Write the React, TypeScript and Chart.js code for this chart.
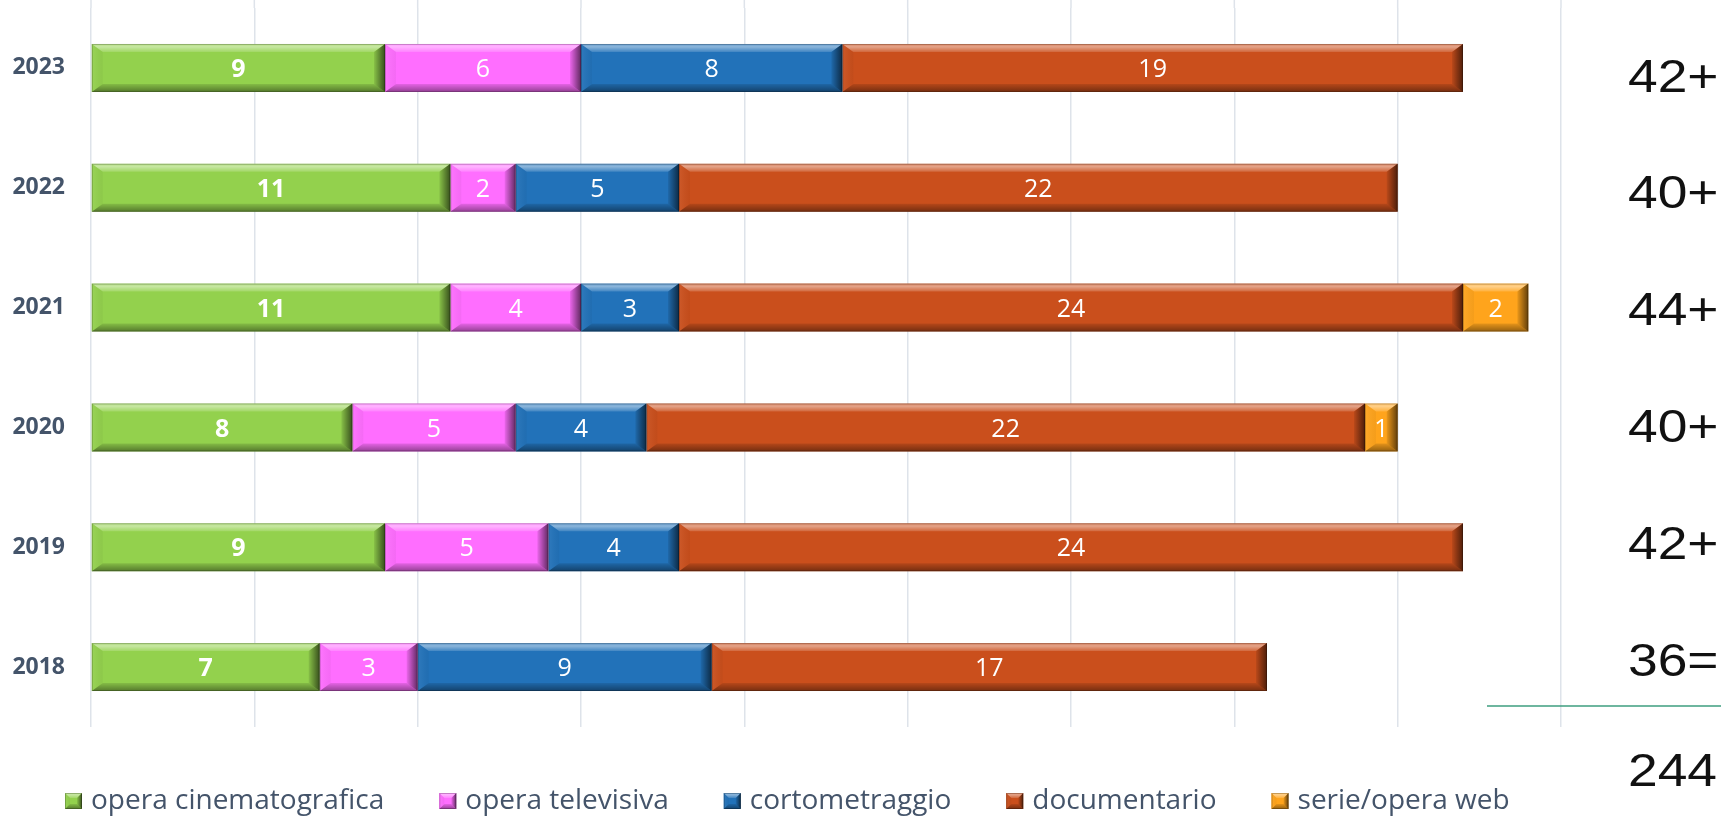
import React, { useEffect, useRef } from "react";
import { Chart, registerables } from "chart.js";
Chart.register(...registerables);

const years = ["2023", "2022", "2021", "2020", "2019", "2018"];
const seriesNames = ["opera cinematografica", "opera televisiva", "cortometraggio", "documentario", "serie/opera web"];
const cinema = [9, 11, 11, 8, 9, 7];
const televisiva = [6, 2, 4, 5, 5, 3];
const corto = [8, 5, 3, 4, 4, 9];
const documentario = [19, 22, 24, 22, 24, 17];
const serieWeb = [null, null, 2, 1, null, null];
const totalSuffix = ["+", "+", "+", "+", "+", "="];
const seriesColors = ["#93D14D", "#FF6EFF", "#2272B9", "#CA4F1C", "#FFA41C"];
const xMin = 0;
const xMax = 45;
const xStep = 5;

type Pt = [number, number];

function poly(ctx: CanvasRenderingContext2D, pts: Pt[], fill: any) {
  ctx.beginPath();
  ctx.moveTo(pts[0][0], pts[0][1]);
  for (let i = 1; i < pts.length; i++) ctx.lineTo(pts[i][0], pts[i][1]);
  ctx.closePath();
  ctx.fillStyle = fill;
  ctx.fill();
}

function drawBevel(ctx: CanvasRenderingContext2D, L: number, T: number, R: number, B: number, bxIn: number, byIn: number) {
  const w = R - L;
  const h = B - T;
  const bx = Math.min(bxIn, w / 2);
  const by = Math.min(byIn, h / 2);
  ctx.save();
  let g = ctx.createLinearGradient(0, T, 0, T + by);
  g.addColorStop(0, "rgba(255,255,255,0.30)");
  g.addColorStop(0.35, "rgba(255,255,255,0.48)");
  g.addColorStop(1, "rgba(255,255,255,0.14)");
  poly(ctx, [[L, T], [R, T], [R - bx, T + by], [L + bx, T + by]], g);
  g = ctx.createLinearGradient(0, B - by, 0, B);
  g.addColorStop(0, "rgba(0,0,0,0.10)");
  g.addColorStop(1, "rgba(0,0,0,0.42)");
  poly(ctx, [[L, B], [R, B], [R - bx, B - by], [L + bx, B - by]], g);
  g = ctx.createLinearGradient(L, 0, L + bx, 0);
  g.addColorStop(0, "rgba(255,255,255,0.06)");
  g.addColorStop(1, "rgba(0,0,0,0.04)");
  poly(ctx, [[L, T], [L + bx, T + by], [L + bx, B - by], [L, B]], g);
  g = ctx.createLinearGradient(R - bx, 0, R, 0);
  g.addColorStop(0, "rgba(0,0,0,0.08)");
  g.addColorStop(1, "rgba(0,0,0,0.62)");
  poly(ctx, [[R, T], [R - bx, T + by], [R - bx, B - by], [R, B]], g);
  ctx.strokeStyle = "rgba(0,0,0,0.22)";
  ctx.lineWidth = 1;
  ctx.strokeRect(L + 0.5, T + 0.5, w - 1, h - 1);
  ctx.restore();
}

const gridColor = "#DEE3EA";

const barDecor = {
  id: "barDecor",
  beforeDatasetsDraw(chart: any) {
    // extend the vertical grid lines up to the top edge of the canvas
    const ctx: CanvasRenderingContext2D = chart.ctx;
    const xs = chart.scales.x;
    const area = chart.chartArea;
    ctx.save();
    ctx.strokeStyle = gridColor;
    ctx.lineWidth = 1.5;
    xs.ticks.forEach((t: any) => {
      const px = xs.getPixelForValue(t.value);
      ctx.beginPath();
      ctx.moveTo(px, 0);
      ctx.lineTo(px, area.top);
      ctx.stroke();
    });
    ctx.restore();
  },
  afterDatasetsDraw(chart: any) {
    const ctx: CanvasRenderingContext2D = chart.ctx;
    chart.data.datasets.forEach((ds: any, di: number) => {
      const meta = chart.getDatasetMeta(di);
      meta.data.forEach((el: any, i: number) => {
        const v = ds.data[i];
        if (v == null || v === 0) return;
        const p = el.getProps(["x", "y", "base", "height"], true);
        const L = Math.min(p.x, p.base);
        const R = Math.max(p.x, p.base);
        const T = p.y - p.height / 2;
        const B = p.y + p.height / 2;
        drawBevel(ctx, L, T, R, B, 11, 8);
        ctx.save();
        ctx.fillStyle = "#FFFFFF";
        ctx.font = (di === 0 ? "bold " : "") + "25px 'Open Sans'";
        ctx.textAlign = "center";
        ctx.textBaseline = "middle";
        ctx.fillText(String(v), (L + R) / 2, p.y + 2);
        ctx.restore();
      });
    });
  },
  afterDraw(chart: any) {
    const ctx: CanvasRenderingContext2D = chart.ctx;
    // legend boxes with bevel
    const lg = chart.legend;
    if (lg && lg.legendHitBoxes) {
      const lo = chart.options.plugins.legend.labels;
      const fontSize = lo.font.size;
      const itemH = Math.max(fontSize, lo.boxHeight);
      lg.legendHitBoxes.forEach((hb: any, i: number) => {
        const top = hb.top + (itemH - lo.boxHeight) / 2;
        const w = 17;
        ctx.save();
        ctx.fillStyle = lg.legendItems[i].fillStyle;
        ctx.fillRect(hb.left, top, w, lo.boxHeight);
        ctx.restore();
        drawBevel(ctx, hb.left, top, hb.left + w, top + lo.boxHeight, 5, 5);
      });
    }
    // totals on the right
    const yScale = chart.scales.y;
    const area = chart.chartArea;
    const n = years.length;
    const sums = years.map((_, i) =>
      [cinema, televisiva, corto, documentario, serieWeb].reduce((s, arr) => s + (arr[i] || 0), 0)
    );
    const grand = sums.reduce((a, b) => a + b, 0);
    const tx = chart.width - 93;
    const drawTotal = (text: string, y: number) => {
      ctx.save();
      ctx.translate(tx, y);
      ctx.scale(1.16, 1);
      ctx.fillStyle = "#111111";
      ctx.font = "46px 'Liberation Sans'";
      ctx.textAlign = "left";
      ctx.textBaseline = "middle";
      ctx.fillText(text, 0, 0);
      ctx.restore();
    };
    years.forEach((_, i) => {
      const y = yScale.getPixelForValue(i) + ((n - 1) / 2 - i) * 3 + 3.5;
      drawTotal(String(sums[i]) + totalSuffix[i], y);
    });
    const lineY = area.bottom - 21;
    ctx.save();
    ctx.strokeStyle = "#3E9E7F";
    ctx.lineWidth = 1.5;
    ctx.beginPath();
    ctx.moveTo(area.right - 74, lineY);
    ctx.lineTo(chart.width, lineY);
    ctx.stroke();
    ctx.restore();
    drawTotal(String(grand), area.bottom + 46);
  },
};

export default function App() {
  const ref = useRef<HTMLCanvasElement>(null);
  useEffect(() => {
    const seriesData = [cinema, televisiva, corto, documentario, serieWeb];
    const chart = new Chart(ref.current as HTMLCanvasElement, {
      type: "bar",
      data: {
        labels: years,
        datasets: seriesNames.map((name, k) => ({
          label: name,
          data: seriesData[k] as any,
          backgroundColor: seriesColors[k],
          borderWidth: 0,
          categoryPercentage: 0.8,
          barPercentage: 0.5,
        })),
      },
      options: {
        indexAxis: "y",
        animation: false,
        responsive: false,
        layout: { padding: { left: 10, right: 0, top: 8, bottom: 0 } },
        scales: {
          x: {
            stacked: true,
            min: xMin,
            max: xMax,
            ticks: { display: false, stepSize: xStep },
            grid: { color: gridColor, lineWidth: 1.5, drawTicks: false },
            border: { display: false },
            afterFit: (s: any) => {
              s.height = 5;
              s.paddingLeft = 0;
              s.paddingRight = 0;
            },
          },
          y: {
            stacked: true,
            grid: { display: false, drawTicks: false },
            border: { display: false },
            ticks: {
              font: { family: "'Open Sans'", weight: "bold", size: 23 },
              color: "#44546A",
              padding: 26,
            },
            afterFit: (s: any) => {
              s.width = 81;
              s.paddingTop = 0;
              s.paddingBottom = 0;
            },
          },
          yR: {
            type: "category",
            position: "right",
            display: true,
            grid: { display: false, drawTicks: false },
            border: { display: false },
            ticks: { display: false },
            afterFit: (s: any) => {
              s.width = 160;
              s.paddingTop = 0;
              s.paddingBottom = 0;
            },
          },
        } as any,
        plugins: {
          tooltip: { enabled: false },
          legend: {
            position: "bottom",
            align: "start",
            maxHeight: 84,
            labels: {
              font: { family: "'Open Sans'", size: 28 },
              color: "#44546A",
              boxWidth: 12,
              boxHeight: 16,
              padding: 55,
            },
          },
        },
      },
      plugins: [barDecor],
    });
    return () => chart.destroy();
  }, []);
  return (
    <div style={{ position: "absolute", left: 0, top: 0, width: 1721, height: 816, background: "#FFFFFF" }}>
      <canvas ref={ref} width={1721} height={816} style={{ display: "block", width: 1721, height: 816 }} />
    </div>
  );
}
